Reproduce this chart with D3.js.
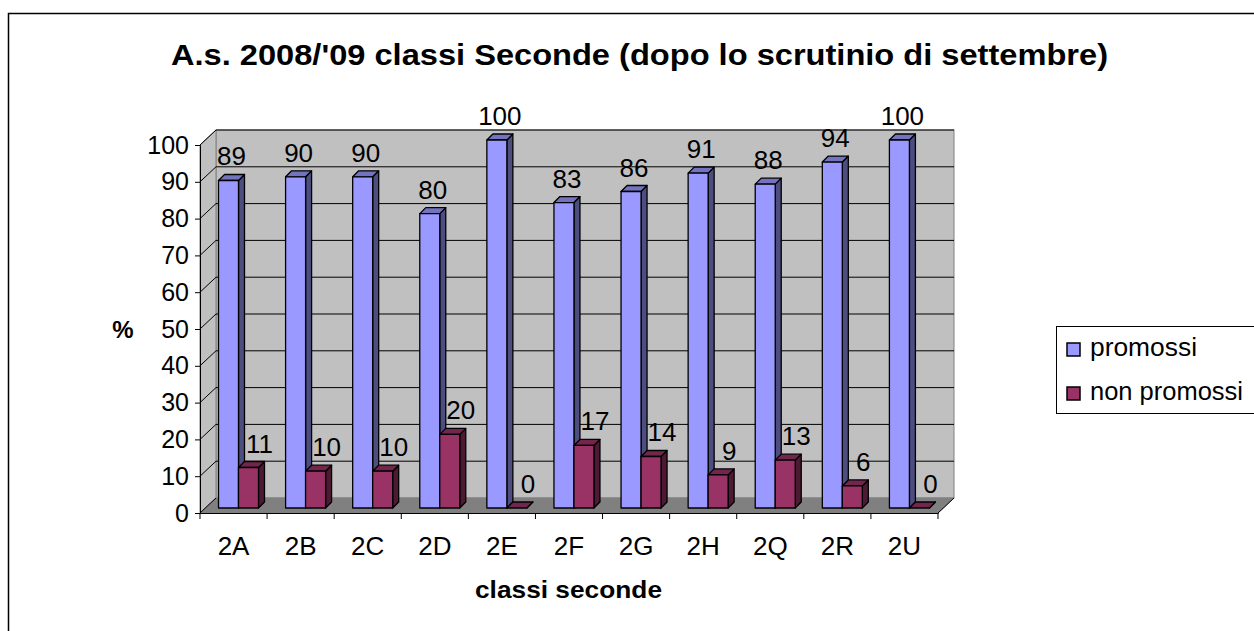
<!DOCTYPE html>
<html><head><meta charset="utf-8">
<script src="https://cdn.jsdelivr.net/npm/d3@7"></script>
<style>html,body{margin:0;padding:0;background:#fff;}svg{display:block;font-family:"Liberation Sans",Arial,sans-serif;}</style>
</head><body>
<svg id="c" width="1254" height="631"></svg>
<script>
const categories = ["2A","2B","2C","2D","2E","2F","2G","2H","2Q","2R","2U"];
const promossi = [89,90,90,80,100,83,86,91,88,94,100];
const nonPromossi = [11,10,10,20,0,17,14,9,13,6,0];
const yTicks = [0,10,20,30,40,50,60,70,80,90,100];
const seriesNames = ["promossi","non promossi"];
const titleText = "A.s. 2008/'09 classi Seconde (dopo lo scrutinio di settembre)";

const svg = d3.select("#c");
// outer frame
svg.append("rect").attr("x",8.5).attr("y",13.5).attr("width",1400).attr("height",800)
  .attr("fill","#fff").attr("stroke","#000").attr("stroke-width",1.5);

const x = d3.scaleBand().domain(categories).range([200,938]);
const y = d3.scaleLinear().domain([0,100]).range([513,145]);
const DX = 16, DY = -15; // wall depth
const bd = 6; // bar depth

// back wall
svg.append("rect").attr("x",200+DX).attr("y",y(100)+DY).attr("width",738).attr("height",y(0)-y(100))
  .attr("fill","#c0c0c0").attr("stroke","#808080");
// left side wall
svg.append("path").attr("d",`M200,${y(0)}L200,${y(100)}L${200+DX},${y(100)+DY}L${200+DX},${y(0)+DY}Z`)
  .attr("fill","#c0c0c0").attr("stroke","#808080");
// floor
svg.append("path").attr("d",`M200,${y(0)}L938,${y(0)}L${938+DX},${y(0)+DY}L${200+DX},${y(0)+DY}Z`)
  .attr("fill","#808080").attr("stroke","#808080");

// gridlines
const g = svg.append("g");
yTicks.slice(1).forEach(t=>{
  g.append("line").attr("x1",200+DX).attr("x2",938+DX).attr("y1",y(t)+DY).attr("y2",y(t)+DY)
    .attr("stroke","#000").attr("stroke-width",1);
});
yTicks.forEach(t=>{
  g.append("line").attr("x1",200).attr("x2",200+DX).attr("y1",y(t)).attr("y2",y(t)+DY)
    .attr("stroke","#000").attr("stroke-width",1);
});

// y axis
const yAxis = svg.append("g").attr("transform","translate(200,0)")
  .call(d3.axisLeft(y).tickValues(yTicks).tickSize(5).tickPadding(6));
yAxis.select(".domain").attr("stroke","#000");
yAxis.selectAll(".tick line").attr("stroke","#000");
yAxis.selectAll("text").attr("font-size",25).attr("fill","#000").attr("font-family","Liberation Sans, Arial, sans-serif");

// x axis
const xAxis = svg.append("g").attr("transform",`translate(0,${y(0)})`)
  .call(d3.axisBottom(x).tickSize(0).tickPadding(24));
xAxis.select(".domain").attr("stroke","#000");
xAxis.selectAll("text").attr("font-size",26).attr("fill","#000").attr("font-family","Liberation Sans, Arial, sans-serif");
// category boundary ticks
categories.concat([null]).forEach((c,i)=>{
  const xx = c===null ? 938 : x(c);
  svg.append("line").attr("x1",xx).attr("x2",xx).attr("y1",y(0)).attr("y2",y(0)+6).attr("stroke","#000");
});
svg.append("line").attr("x1",938).attr("y1",y(0)).attr("x2",938+DX).attr("y2",y(0)+DY).attr("stroke","#000");

// bars
const colors = [
  {front:"#9999ff", top:"#7373bf", side:"#4d4d80"},
  {front:"#993366", top:"#73264d", side:"#4d1a33"}
];
const bw = 20, off = 18.5, baseShift = 5;
function drawBar(x0, v, col){
  const yb = y(0) - baseShift, yt = y(v) - baseShift;
  const gg = svg.append("g").attr("stroke","#000").attr("stroke-width",1.3).attr("stroke-linejoin","round");
  gg.append("path").attr("d",`M${x0+bw},${yb}L${x0+bw+bd},${yb-bd}L${x0+bw+bd},${yt-bd}L${x0+bw},${yt}Z`).attr("fill",col.side);
  gg.append("path").attr("d",`M${x0},${yt}L${x0+bd},${yt-bd}L${x0+bw+bd},${yt-bd}L${x0+bw},${yt}Z`).attr("fill",col.top);
  if (v>0) gg.append("rect").attr("x",x0).attr("y",yt).attr("width",bw).attr("height",yb-yt).attr("fill",col.front);
}
categories.forEach((c,i)=>{
  const xb = x(c)+off;
  drawBar(xb, promossi[i], colors[0]);
  drawBar(xb+bw, nonPromossi[i], colors[1]);
});
// value labels
categories.forEach((c,i)=>{
  const xb = x(c)+off;
  svg.append("text").attr("x",xb+bw/2+3).attr("y",y(promossi[i])-baseShift-bd-9)
    .attr("text-anchor","middle").attr("font-size",26).text(promossi[i]);
  svg.append("text").attr("x",xb+bw+bw/2+11).attr("y",y(nonPromossi[i])-baseShift-bd-9)
    .attr("text-anchor","middle").attr("font-size",26).text(nonPromossi[i]);
});

// title & axis titles
svg.append("text").attr("x",171).attr("y",65)
  .attr("font-size",30).attr("font-weight","bold")
  .attr("textLength",937).attr("lengthAdjust","spacingAndGlyphs").text(titleText);
svg.append("text").attr("x",123).attr("y",338).attr("text-anchor","middle")
  .attr("font-size",24).attr("font-weight","bold").text("%");
svg.append("text").attr("x",475).attr("y",598)
  .attr("font-size",24).attr("font-weight","bold")
  .attr("textLength",187).attr("lengthAdjust","spacingAndGlyphs").text("classi seconde");

// legend
const lg = svg.append("g");
lg.append("rect").attr("x",1056.5).attr("y",326.5).attr("width",300).attr("height",87)
  .attr("fill","#fff").attr("stroke","#000");
const legW = [107,153];
seriesNames.forEach((s,i)=>{
  const yy = 343 + i*44;
  lg.append("rect").attr("x",1067).attr("y",yy).attr("width",13).attr("height",13)
    .attr("fill",colors[i].front).attr("stroke","#000").attr("stroke-width",1.5);
  lg.append("text").attr("x",1090).attr("y",yy+13).attr("font-size",25)
    .attr("textLength",legW[i]).attr("lengthAdjust","spacingAndGlyphs").text(s);
});
</script>
</body></html>
